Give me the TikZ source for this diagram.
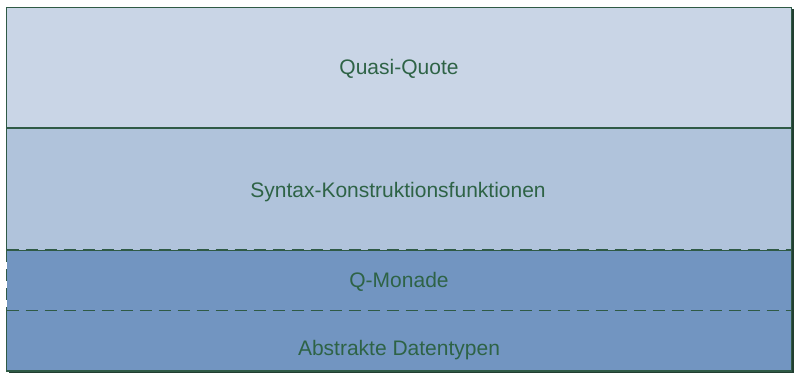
\documentclass[tikz,border=0pt]{standalone}
\usepackage{fontspec}
\setmainfont{Liberation Sans}
\definecolor{bandA}{HTML}{C9D5E6}
\definecolor{bandB}{HTML}{B0C3DB}
\definecolor{bandC}{HTML}{7295C1}
\definecolor{frame}{HTML}{2F5A46}
\definecolor{labelink}{HTML}{2E6346}
\begin{document}
\begin{tikzpicture}[x=1pt,y=-1pt,
  layertext/.style={anchor=base,text=labelink,font=\fontsize{21}{24}\selectfont,inner sep=0pt},
  solidline/.style={draw=frame,line width=1.6pt},
  dashline/.style={draw=frame,line width=1.8pt,dash pattern=on 12pt off 7pt}]
  \useasboundingbox (0,0) rectangle (794,374);
  % corner points of the layer stack
  \coordinate (tl) at (6.5,7.5);
  \coordinate (tr) at (791.5,7.5);
  \coordinate (s1l) at (6.5,128);
  \coordinate (s1r) at (791.5,128);
  \coordinate (s2l) at (6.5,250);
  \coordinate (s2r) at (791.5,250);
  \coordinate (s3l) at (6.5,310.5);
  \coordinate (s3r) at (791.5,310.5);
  \coordinate (bl) at (6.5,371);
  \coordinate (br) at (791.5,371);
  % shadow
  \fill[frame!70!black] ([shift={(2,2)}]tl) rectangle ([shift={(2,2)}]br);
  % layer fills
  \fill[bandA] (tl) rectangle (s1r);
  \fill[bandB] (s1l) rectangle (s2r);
  \fill[bandC] (s2l) rectangle (br);
  % separators and frame
  \draw[solidline] (s2l) -- (s1l) -- (tl) -- (tr) -- (br) -- (bl) -- (s3l);
  \draw[solidline,line width=2pt] (s1l) -- (s1r);
  \draw[frame,line width=0.8pt] (s2l) -- (s2r);
  \draw[dashline] (s2l) -- (s2r);
  \draw[dashline] (s3l) -- (s3r);
  \draw[dashline] (s2l) -- (s3l);
  % layer labels
  \node[layertext] (quasi) at (399,75) {Quasi-Quote};
  \node[layertext] (syntax) at (398,197) {Syntax-Konstruktionsfunktionen};
  \node[layertext] (qmon) at (399,287) {Q-Monade};
  \node[layertext] (adt) at (399,355.5) {Abstrakte Datentypen};
\end{tikzpicture}
\end{document}
